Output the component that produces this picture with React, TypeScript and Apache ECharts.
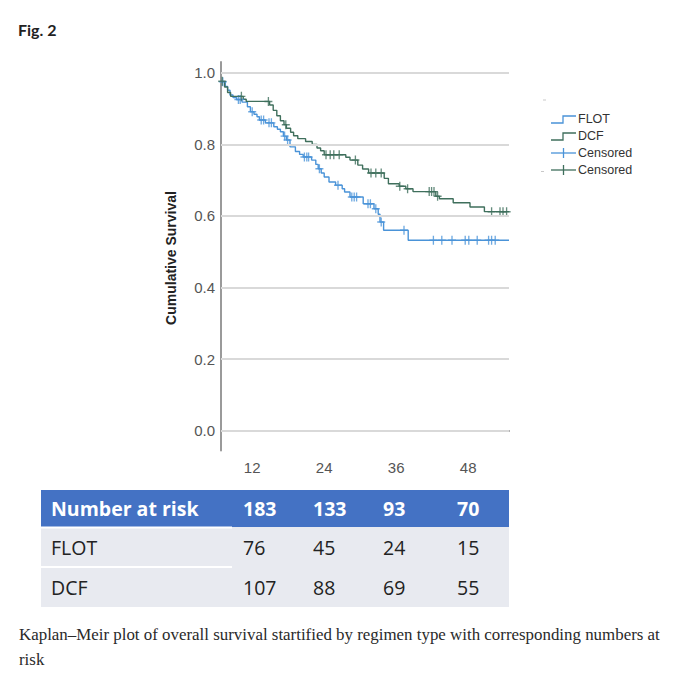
import React, { useEffect, useRef } from "react";
import * as echarts from "echarts";

// ---- data ----
const figTitle = "Fig. 2";
const yAxisTitle = "Cumulative Survival";
const xTickValues = [12, 24, 36, 48];
const yTickValues = [0, 0.2, 0.4, 0.6, 0.8, 1.0];

// Kaplan–Meier steps: [month, survival after the step]
const flotSteps: [number, number][] = [
  [6.8, 0.975], [7.5, 0.962], [7.9, 0.951], [8.3, 0.938], [8.8, 0.931], [9.4, 0.925],
  [10.3, 0.918], [11.2, 0.905], [11.7, 0.891], [12.3, 0.884], [12.8, 0.877], [13.2, 0.868],
  [14.2, 0.86], [15.6, 0.849], [16.2, 0.842], [16.7, 0.835], [17.2, 0.823], [17.7, 0.812],
  [18.3, 0.793], [19.2, 0.78], [19.9, 0.772], [20.5, 0.765], [21.9, 0.756], [22.6, 0.744],
  [23.0, 0.732], [23.5, 0.72], [24.0, 0.709], [24.8, 0.695], [25.9, 0.686], [27.0, 0.676],
  [27.4, 0.667], [28.3, 0.653], [30.5, 0.634], [32.3, 0.62], [33.0, 0.605], [33.3, 0.583],
  [33.9, 0.56], [38.0, 0.532], [54.8, 0.532],
];
const dcfSteps: [number, number][] = [
  [6.8, 0.976], [7.4, 0.96], [7.9, 0.945], [8.4, 0.934], [10.5, 0.926], [11.0, 0.92],
  [14.9, 0.91], [15.5, 0.895], [16.1, 0.88], [16.7, 0.866], [17.3, 0.855], [17.7, 0.845],
  [18.4, 0.834], [18.9, 0.824], [19.6, 0.816], [20.9, 0.808], [22.0, 0.8], [22.8, 0.79],
  [23.4, 0.782], [24.0, 0.771], [27.6, 0.764], [28.3, 0.756], [29.6, 0.742], [30.4, 0.731],
  [31.4, 0.72], [34.0, 0.705], [34.7, 0.69], [36.5, 0.683], [37.6, 0.676], [38.8, 0.668],
  [42.6, 0.655], [43.2, 0.648], [45.5, 0.637], [48.3, 0.625], [50.7, 0.612], [54.8, 0.612],
];
const flotCensored: [number, number][] = [
  [7.1, 0.975], [9.7, 0.925], [10.0, 0.925], [12.0, 0.891], [13.5, 0.868], [13.9, 0.868],
  [14.8, 0.86], [15.2, 0.86], [17.4, 0.823], [17.9, 0.812], [20.7, 0.765], [21.1, 0.765],
  [21.4, 0.765], [23.2, 0.732], [26.3, 0.686], [28.6, 0.653], [29.0, 0.653], [29.4, 0.653],
  [31.3, 0.634], [31.7, 0.634], [32.6, 0.62], [33.5, 0.583], [37.3, 0.56], [42.2, 0.532],
  [43.6, 0.532], [45.3, 0.532], [47.5, 0.532], [48.1, 0.532], [49.5, 0.532], [51.4, 0.532],
  [51.9, 0.532], [52.5, 0.532],
];
const dcfCensored: [number, number][] = [
  [7.0, 0.976], [10.2, 0.934], [14.7, 0.92], [17.6, 0.855], [24.3, 0.771], [25.0, 0.771],
  [25.6, 0.771], [26.5, 0.771], [29.2, 0.756], [31.8, 0.72], [32.6, 0.72], [33.5, 0.72],
  [36.6, 0.683], [37.9, 0.676], [41.5, 0.668], [41.9, 0.668], [42.3, 0.668], [42.9, 0.655],
  [51.9, 0.612], [53.3, 0.612], [53.8, 0.612], [54.4, 0.612],
];

const legendLabels = ["FLOT", "DCF", "Censored", "Censored"];

const riskRowLabels = ["Number at risk", "FLOT", "DCF"];
const totalAtRisk = [183, 133, 93, 70];
const flotAtRisk = [76, 45, 24, 15];
const dcfAtRisk = [107, 88, 69, 55];

const captionLines = [
  "Kaplan–Meir plot of overall survival startified by regimen type with corresponding numbers at",
  "risk",
];

// ---- styles ----
const FLOT_C = "#4a93d8";
const DCF_C = "#3f6f5c";
const PLUS = "path://M5,0L5,10M0,5L10,5";

export default function App() {
  const ref = useRef<HTMLDivElement>(null);

  useEffect(() => {
    if (!ref.current) return;
    const chart = echarts.init(ref.current, undefined, { renderer: "svg" });

    const graphics: any[] = [];
    graphics.push({
      type: "text", left: 18, top: 21,
      style: { text: figTitle, font: "bold 16px Lato", fill: "#222" },
    });
    graphics.push({
      type: "text", x: 171, y: 258, rotation: Math.PI / 2,
      style: { text: yAxisTitle, font: "bold 14px 'Liberation Sans'", fill: "#222", align: "center", verticalAlign: "middle" },
    });

    // legend
    const legendColors = [FLOT_C, DCF_C, FLOT_C, DCF_C];
    legendLabels.forEach((lab, i) => {
      const y = 119 + 17 * i;
      const c = legendColors[i];
      if (i < 2) {
        graphics.push({
          type: "polyline",
          shape: { points: [[551, y + 4], [563, y + 4], [563, y - 3], [576, y - 3]] },
          style: { stroke: c, lineWidth: 1.3, fill: null },
        });
      } else {
        graphics.push({ type: "line", shape: { x1: 551, y1: y, x2: 576, y2: y }, style: { stroke: c, lineWidth: 1.3 } });
        graphics.push({ type: "line", shape: { x1: 563.5, y1: y - 5, x2: 563.5, y2: y + 5 }, style: { stroke: c, lineWidth: 1.3 } });
      }
      graphics.push({
        type: "text", x: 578, y,
        style: { text: lab, font: "12.5px 'Liberation Sans'", fill: "#333", verticalAlign: "middle" },
      });
    });
    graphics.push({ type: "rect", shape: { x: 543, y: 99.5, width: 3, height: 1 }, style: { fill: "#c8c8c8" } });
    graphics.push({ type: "rect", shape: { x: 541, y: 171, width: 3, height: 1 }, style: { fill: "#c8c8c8" } });

    // number at risk table
    const tableX = 41, tableW = 468;
    const rowTops = [490, 527, 567];
    const rowHeights = [37, 40, 40];
    const colX = [243, 313, 383, 457];
    const rows = [totalAtRisk, flotAtRisk, dcfAtRisk];
    rows.forEach((vals, r) => {
      graphics.push({
        type: "rect",
        shape: { x: tableX, y: rowTops[r], width: tableW, height: rowHeights[r] },
        style: { fill: r === 0 ? "#4472c4" : "#e8eaf0" },
      });
    });
    graphics.push({ type: "rect", shape: { x: tableX, y: 526.5, width: 191, height: 2 }, style: { fill: "#ffffff" } });
    graphics.push({ type: "rect", shape: { x: tableX, y: 566, width: 191, height: 2 }, style: { fill: "#ffffff" } });
    rows.forEach((vals, r) => {
      const cy = rowTops[r] + rowHeights[r] / 2;
      const header = r === 0;
      const font = (header ? "bold " : "") + "19.5px 'Open Sans'";
      const fill = header ? "#ffffff" : "#222222";
      graphics.push({ type: "text", x: 51, y: cy, style: { text: riskRowLabels[r], font, fill, verticalAlign: "middle" } });
      vals.forEach((v, c) => {
        graphics.push({ type: "text", x: colX[c], y: cy, style: { text: String(v), font, fill, verticalAlign: "middle" } });
      });
    });

    // caption
    captionLines.forEach((line, i) => {
      graphics.push({
        type: "text", x: 19, y: 634 + 25 * i,
        style: { text: line, font: "16.9px 'Liberation Serif'", fill: "#2a2a2a", verticalAlign: "middle" },
      });
    });

    chart.setOption({
      animation: false,
      backgroundColor: "#ffffff",
      grid: { left: 221, right: 165, top: 62, bottom: 229.5 },
      xAxis: {
        type: "value", min: 6.8, max: 54.8,
        axisLine: { show: true, lineStyle: { color: "#9a9a9a", width: 2 } },
        axisTick: { show: false },
        splitLine: { show: false },
        axisLabel: {
          customValues: xTickValues, color: "#555", fontSize: 15, margin: 9,
          fontFamily: "Liberation Sans", formatter: (v: number) => String(v),
        },
      },
      yAxis: {
        type: "value", min: -0.055, max: 1.03,
        axisLine: { show: true, lineStyle: { color: "#9a9a9a", width: 2 } },
        axisTick: { show: false },
        splitLine: { show: false },
        axisLabel: {
          customValues: yTickValues, color: "#555", fontSize: 15, margin: 6,
          fontFamily: "Liberation Sans", formatter: (v: number) => v.toFixed(1),
        },
      },
      series: [
        {
          type: "line", data: [], z: 1, silent: true,
          markLine: {
            silent: true, symbol: ["none", "none"], label: { show: false },
            lineStyle: { color: "#d9d9d9", width: 2, type: "solid" },
            data: yTickValues.map((v) => ({ yAxis: v })),
          },
        },
        {
          name: "FLOT", type: "line", step: "end", data: flotSteps, symbol: "none", z: 3,
          lineStyle: { color: FLOT_C, width: 1.4 },
        },
        {
          name: "DCF", type: "line", step: "end", data: dcfSteps, symbol: "none", z: 3,
          lineStyle: { color: DCF_C, width: 1.4 },
        },
        {
          name: "FLOT Censored", type: "scatter", data: flotCensored, symbol: PLUS, symbolSize: [8, 9], z: 4,
          itemStyle: { color: "rgba(0,0,0,0)", borderColor: FLOT_C, borderWidth: 1.4 },
        },
        {
          name: "DCF Censored", type: "scatter", data: dcfCensored, symbol: PLUS, symbolSize: [8, 9], z: 4,
          itemStyle: { color: "rgba(0,0,0,0)", borderColor: DCF_C, borderWidth: 1.4 },
        },
      ],
      graphic: graphics,
    });

    return () => chart.dispose();
  }, []);

  return (
    <div
      ref={ref}
      style={{ position: "absolute", left: 0, top: 0, width: 674, height: 680 }}
    />
  );
}
